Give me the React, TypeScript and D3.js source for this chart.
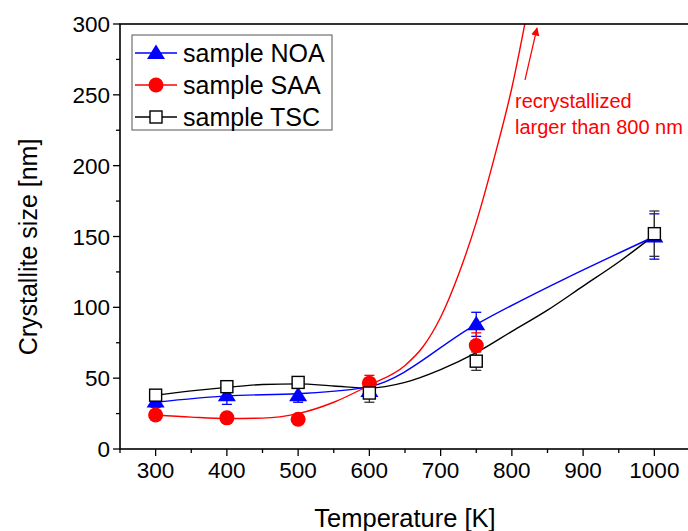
import React from "react";
import * as d3 from "d3";

// measured points (temperature in K, size in nm, error in nm)
const temps = [300, 400, 500, 600, 750, 1000];
const noaValues = [33.5, 38, 38, 41, 88, 150];
const noaErrors = [4, 6.5, 5, 4, 8.5, 16];
const saaTemps = [300, 400, 500, 600, 750];
const saaValues = [24, 22, 21, 46.5, 73];
const saaErrors = [2, 2, 2, 5.5, 9];
const tscValues = [38, 44, 47, 39.5, 62, 152];
const tscErrors = [3, 3, 4, 6.5, 6.5, 16];

// fitted curves
const saaFitT = [300, 350, 400, 450, 500, 550, 600, 650, 675, 700, 725, 750, 775, 800, 825];
const saaFitV = [24, 22.5, 21.5, 21.8, 25, 33, 45, 59, 72, 93, 123, 160, 205, 255, 318];
const tscFitT = [300, 350, 400, 450, 500, 550, 600, 650, 700, 750, 800, 850, 900, 950, 1000];
const tscFitV = [38, 41, 43.5, 45.5, 46, 44.5, 43, 47, 56, 68, 83, 98, 115, 132, 151];
const noaFitT = [300, 400, 500, 600, 750, 1000];
const noaFitV = [33, 37.5, 39, 44, 88, 150];

const xTicks = [300, 400, 500, 600, 700, 800, 900, 1000];
const yTicks = [0, 50, 100, 150, 200, 250, 300];

const App = () => {
	const width = 688;
	const height = 531;
	const left = 120;
	const top = 24;
	const bottom = 449;
	const right = 690;
	const font = "'Liberation Sans', Arial, sans-serif";

	const x = d3.scaleLinear().domain([250, 1050]).range([left, right]);
	const y = d3.scaleLinear().domain([0, 300]).range([bottom, top]);

	const line = d3
		.line<[number, number]>()
		.x((d) => x(d[0]))
		.y((d) => y(d[1]))
		.curve(d3.curveMonotoneX);

	const zip = (a: number[], b: number[]) => a.map((t, i) => [t, b[i]] as [number, number]);

	const minorX = d3.range(250, 1051, 50).filter((t) => t % 100 !== 0);
	const minorY = d3.range(25, 300, 50);

	const errorBar = (t: number, v: number, e: number, color: string, key: string) => (
		<g key={key} stroke={color} strokeWidth={1.3}>
			<line x1={x(t)} x2={x(t)} y1={y(v - e)} y2={y(v + e)} />
			<line x1={x(t) - 5} x2={x(t) + 5} y1={y(v - e)} y2={y(v - e)} />
			<line x1={x(t) - 5} x2={x(t) + 5} y1={y(v + e)} y2={y(v + e)} />
		</g>
	);

	const triangle = (cx: number, cy: number, key?: string) => (
		<path key={key} d={`M${cx},${cy - 8.5}L${cx + 9},${cy + 6}L${cx - 9},${cy + 6}Z`} fill="#0000ff" />
	);
	const circle = (cx: number, cy: number, key?: string) => (
		<circle key={key} cx={cx} cy={cy} r={7.5} fill="#ff0000" />
	);
	const square = (cx: number, cy: number, key?: string) => (
		<rect key={key} x={cx - 6} y={cy - 6} width={12} height={12} fill="#fff" stroke="#000" strokeWidth={1.4} />
	);

	const legendRows = [
		{ label: "sample NOA", color: "#0000ff", mark: triangle },
		{ label: "sample SAA", color: "#ff0000", mark: circle },
		{ label: "sample TSC", color: "#000", mark: square },
	];

	return (
		<svg width={width} height={height} style={{ position: "absolute", left: 0, top: 0 }} fontFamily={font}>
			<defs>
				<clipPath id="plotArea">
					<rect x={left} y={top} width={right - left} height={bottom - top} />
				</clipPath>
				<marker id="arrowHead" viewBox="0 0 10 10" refX="9" refY="5" markerWidth="7" markerHeight="7" orient="auto">
					<path d="M0,0L10,5L0,10Z" fill="#ff0000" />
				</marker>
			</defs>
			<rect width={width} height={height} fill="#fff" />

			{/* curves */}
			<g clipPath="url(#plotArea)" fill="none" strokeWidth={1.4}>
				<path d={line(zip(tscFitT, tscFitV)) || ""} stroke="#000" />
				<path d={line(zip(noaFitT, noaFitV)) || ""} stroke="#0000ff" />
				<path d={line(zip(saaFitT, saaFitV)) || ""} stroke="#ff0000" />
			</g>

			{/* error bars */}
			{temps.map((t, i) => errorBar(t, noaValues[i], noaErrors[i], "#0000ff", `ne${i}`))}
			{saaTemps.map((t, i) => errorBar(t, saaValues[i], saaErrors[i], "#ff0000", `se${i}`))}
			{temps.map((t, i) => errorBar(t, tscValues[i], tscErrors[i], "#333", `te${i}`))}

			{/* markers */}
			{temps.map((t, i) => triangle(x(t), y(noaValues[i]), `nm${i}`))}
			{saaTemps.map((t, i) => circle(x(t), y(saaValues[i]), `sm${i}`))}
			{temps.map((t, i) => square(x(t), y(tscValues[i]), `tm${i}`))}

			{/* frame */}
			<rect x={left} y={top} width={right - left} height={bottom - top} fill="none" stroke="#000" strokeWidth={1.6} />

			{/* x axis */}
			{xTicks.map((t) => (
				<g key={`xt${t}`}>
					<line x1={x(t)} x2={x(t)} y1={bottom} y2={bottom + 7} stroke="#000" strokeWidth={1.3} />
					<text x={x(t)} y={478} fontSize={22.5} textAnchor="middle">
						{t}
					</text>
				</g>
			))}
			{minorX.map((t) => (
				<line key={`xm${t}`} x1={x(t)} x2={x(t)} y1={bottom} y2={bottom + 4} stroke="#000" strokeWidth={1.3} />
			))}
			<text x={405} y={527} fontSize={25.5} textAnchor="middle">
				Temperature [K]
			</text>

			{/* y axis */}
			{yTicks.map((v) => (
				<g key={`yt${v}`}>
					<line x1={left - 7} x2={left} y1={y(v)} y2={y(v)} stroke="#000" strokeWidth={1.3} />
					<text x={110} y={y(v) + 8} fontSize={22.5} textAnchor="end">
						{v}
					</text>
				</g>
			))}
			{minorY.map((v) => (
				<line key={`ym${v}`} x1={left - 4} x2={left} y1={y(v)} y2={y(v)} stroke="#000" strokeWidth={1.3} />
			))}
			<text transform="translate(37,247) rotate(-90)" fontSize={25} textAnchor="middle">
				Crystallite size [nm]
			</text>

			{/* legend */}
			<rect x={132} y={35} width={200} height={95} fill="#fff" stroke="#555" strokeWidth={1} />
			{legendRows.map((row, i) => {
				const cy = 53 + i * 32;
				return (
					<g key={row.label}>
						<line x1={135} x2={177} y1={cy} y2={cy} stroke={row.color} strokeWidth={1.4} />
						{row.mark(156, cy)}
						<text x={183} y={cy + 9} fontSize={25}>
							{row.label}
						</text>
					</g>
				);
			})}

			{/* annotation */}
			<line x1={525} y1={80} x2={537} y2={28} stroke="#ff0000" strokeWidth={1.2} markerEnd="url(#arrowHead)" />
			<text x={515} y={108} fontSize={20} fill="#ff0000">
				recrystallized
			</text>
			<text x={515} y={134} fontSize={20} fill="#ff0000">
				larger than 800 nm
			</text>
		</svg>
	);
};

export default App;
